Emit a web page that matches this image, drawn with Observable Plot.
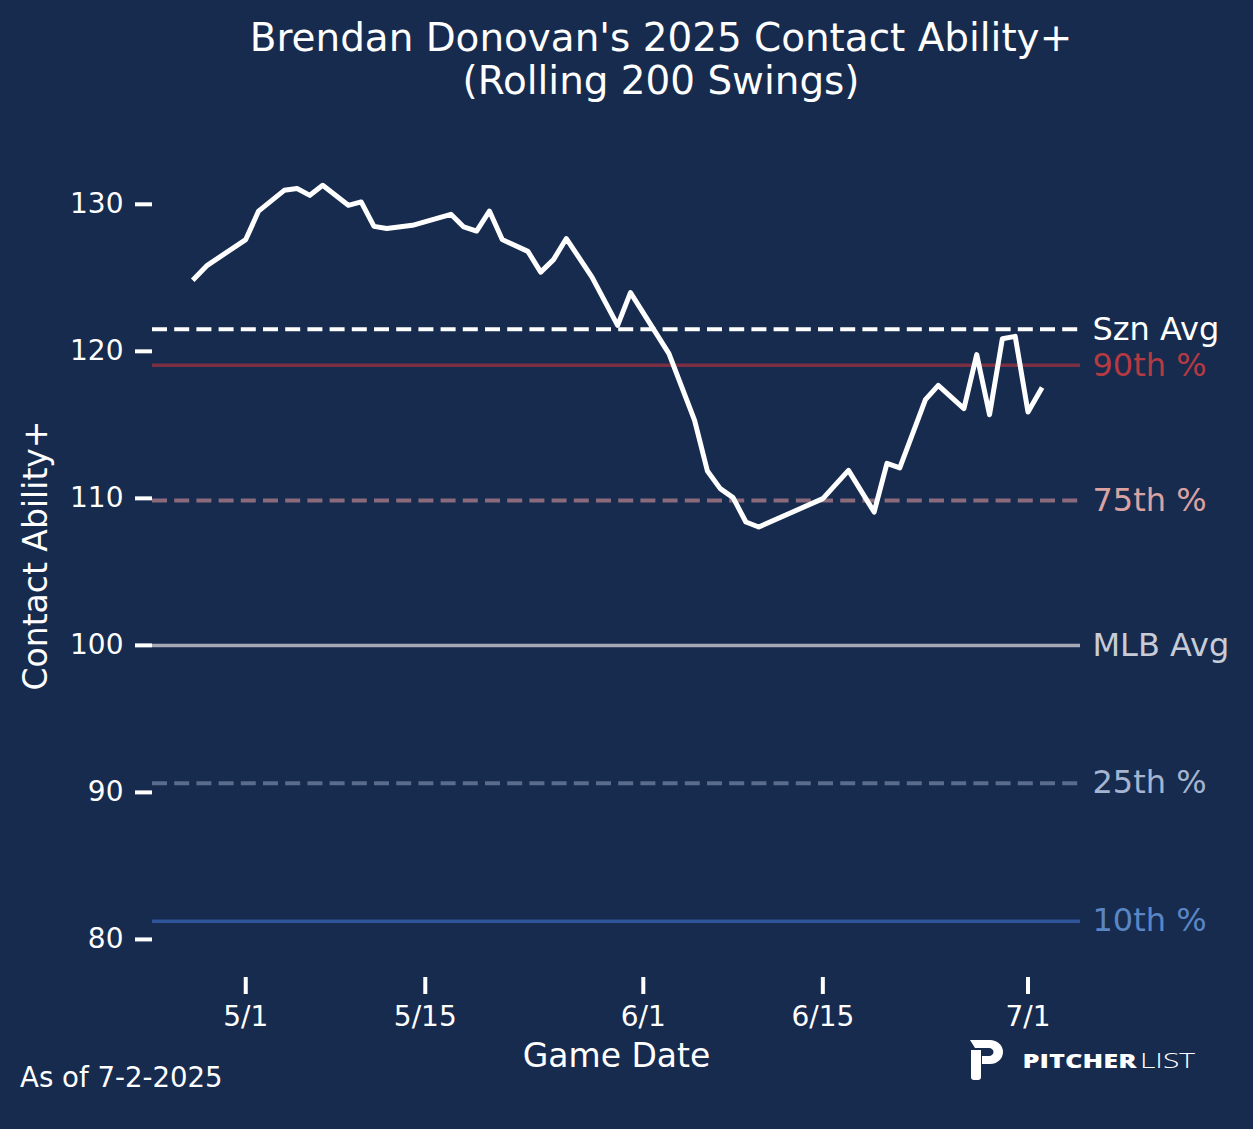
<!DOCTYPE html>
<html>
<head>
<meta charset="utf-8">
<script src="https://cdn.jsdelivr.net/npm/d3@7"></script>
<script src="https://cdn.jsdelivr.net/npm/@observablehq/plot@0.6"></script>
<style>
  html, body { margin: 0; padding: 0; background: #172b4f; }
  #wrap { position: relative; width: 1253px; height: 1129px; background: #172b4f; overflow: hidden; font-family: "DejaVu Sans", sans-serif; }
  #chart, #overlay { position: absolute; left: 0; top: 0; }
  #overlay { pointer-events: none; }
</style>
</head>
<body>
<div id="wrap">
  <div id="chart"></div>
  <svg id="overlay" width="1253" height="1129" xmlns="http://www.w3.org/2000/svg">
    <text x="661" y="51" text-anchor="middle" fill="#ffffff" font-family="DejaVu Sans" font-size="38.9">Brendan Donovan's 2025 Contact Ability+</text>
    <text x="661" y="94" text-anchor="middle" fill="#ffffff" font-family="DejaVu Sans" font-size="38.9">(Rolling 200 Swings)</text>
    <text x="20" y="1087" fill="#ffffff" font-family="DejaVu Sans" font-size="27.6">As of 7-2-2025</text>
    <path fill="#ffffff" d="M970,1040 L990,1040 A13,12 0 0 1 990,1064 L982,1064 L982,1056 L989,1056 A4.5,4 0 0 0 989,1048 L975,1048 Z"/>
    <path fill="#ffffff" d="M971,1050 L981,1050 L981,1077 Q981,1080 978,1080 L974,1080 Q971,1080 971,1077 Z"/>
    <text x="1022.5" y="1067.5" fill="#ffffff" font-family="Open Sans" font-weight="800" font-size="19.6" textLength="114" lengthAdjust="spacingAndGlyphs">PITCHER</text>
    <text x="1140" y="1067.5" fill="#ffffff" font-family="Open Sans" font-weight="300" font-size="19.6" textLength="55" lengthAdjust="spacingAndGlyphs">LIST</text>
  </svg>
</div>
<script>
// ---- data ----
const gameDates = ["2025-04-27","2025-04-28","2025-05-01","2025-05-02","2025-05-04","2025-05-05","2025-05-06","2025-05-07","2025-05-09","2025-05-10",
  "2025-05-11","2025-05-12","2025-05-14","2025-05-17","2025-05-18","2025-05-19","2025-05-20","2025-05-21","2025-05-23","2025-05-24",
  "2025-05-25","2025-05-26","2025-05-28","2025-05-30","2025-05-31","2025-06-03","2025-06-05","2025-06-06","2025-06-07","2025-06-08",
  "2025-06-09","2025-06-10","2025-06-15","2025-06-17","2025-06-19","2025-06-20","2025-06-21","2025-06-23","2025-06-24","2025-06-26",
  "2025-06-27","2025-06-28","2025-06-29","2025-06-30","2025-07-01","2025-07-02"];
const contactAbility = [124.95,125.85,127.6,129.54,130.95,131.07,130.61,131.29,129.93,130.16,
  128.5,128.35,128.57,129.32,128.46,128.18,129.54,127.6,126.8,125.39,
  126.24,127.67,125.05,121.77,123.99,119.84,115.31,111.86,110.66,110.05,
  108.39,108.05,109.98,111.9,109.07,112.38,112.07,116.71,117.69,116.1,
  119.78,115.69,120.86,121.02,115.87,117.39];

const refLabels = ["Szn Avg", "90th %", "75th %", "MLB Avg", "25th %", "10th %"];
const refValues = [121.5, 119.05, 109.86, 100, 90.63, 81.24];

const xTickLabels = ["2025-05-01", "2025-05-15", "2025-06-01", "2025-06-15", "2025-07-01"];
const yTickValues = [80, 90, 100, 110, 120, 130];

// ---- styles (kept apart from data) ----
const refLineColor = ["#ffffff", "#7b2f42", "#8b6a7b", "#a6aab6", "#5a6b8c", "#2d5598"];
const refTextColor = ["#ffffff", "#b53a41", "#dba2a2", "#c8ccd6", "#a5b4cf", "#5a86c5"];
const refDashed = [true, false, true, false, true, false];

const parse = d3.timeParse("%Y-%m-%d");
const series = gameDates.map((d, i) => ({date: parse(d), value: contactAbility[i]}));
const refs = refLabels.map((label, i) => ({label, value: refValues[i]}));
const xTicks = xTickLabels.map(parse);

const may1 = parse("2025-05-01");
const hour = 3600 * 1000;
const xDomain = [new Date(+may1 - 174.5 * hour), new Date(+may1 + 1562.2 * hour)];

const ruleMarks = [];
const labelMarks = [];
refs.forEach((r, i) => {
  ruleMarks.push(Plot.ruleY([r], {
    y: "value",
    stroke: refLineColor[i],
    strokeWidth: refDashed[i] ? 4 : 3.5,
    strokeDasharray: refDashed[i] ? "15 7.2" : null
  }));
  labelMarks.push(Plot.text([r], {
    y: "value",
    frameAnchor: "right",
    text: "label",
    textAnchor: "start",
    lineAnchor: "middle",
    dx: 12,
    fontSize: 32,
    fill: refTextColor[i]
  }));
});

const chart = Plot.plot({
  width: 1253,
  height: 1129,
  marginLeft: 152,
  marginRight: 173,
  marginTop: 145,
  marginBottom: 152,
  style: {background: "transparent", color: "#ffffff", fontFamily: "DejaVu Sans", overflow: "visible"},
  x: {type: "time", domain: xDomain, range: [152, 1080]},
  y: {domain: [77.41, 134], range: [977, 145]},
  marks: [
    ...ruleMarks,
    Plot.lineY(series, {x: "date", y: "value", stroke: "#ffffff", strokeWidth: 5, strokeLinejoin: "round", strokeLinecap: "square"}),
    ...labelMarks,
    Plot.axisX({ticks: xTicks, tickFormat: d3.timeFormat("%-m/%-d"), tickSize: 17, tickPadding: 12, fontSize: 28, strokeWidth: 4, stroke: "#ffffff", fill: "#ffffff", label: null}),
    Plot.axisY({ticks: yTickValues, tickSize: 17, tickPadding: 12, fontSize: 28, strokeWidth: 4, stroke: "#ffffff", fill: "#ffffff", label: null}),
    Plot.text(["Game Date"], {text: d => d, frameAnchor: "bottom", textAnchor: "middle", lineAnchor: "middle", dy: 79, fontSize: 33, fill: "#ffffff"}),
    Plot.text(["Contact Ability+"], {text: d => d, frameAnchor: "left", textAnchor: "middle", lineAnchor: "middle", dx: -116, dy: -6, rotate: -90, fontSize: 33, fill: "#ffffff"})
  ]
});
document.getElementById("chart").appendChild(chart);
</script>
</body>
</html>
